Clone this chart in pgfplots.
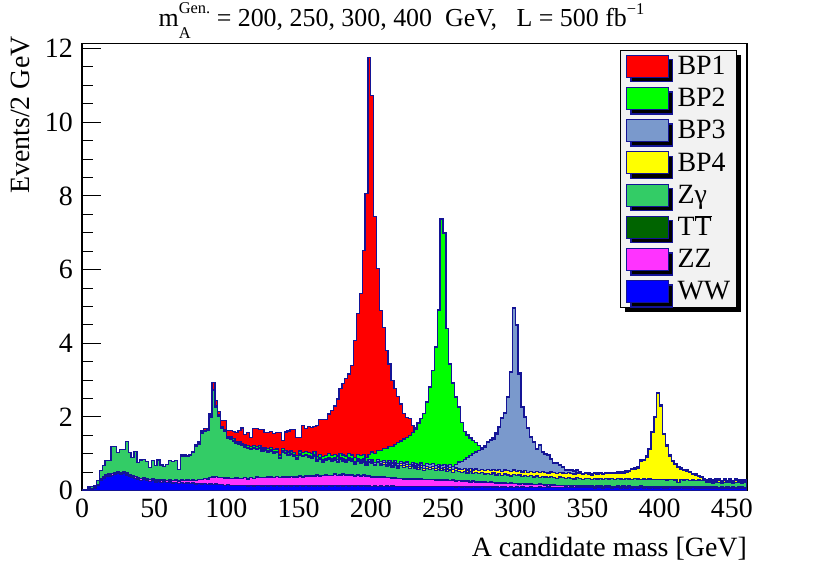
\documentclass[border=0pt]{standalone}
\usepackage{fontspec}
\setmainfont{Liberation Serif}
\usepackage{pgfplots}
\pgfplotsset{compat=1.18}
\usepackage{pgfplotstable}
\usetikzlibrary{shadows}

\definecolor{bpone}{RGB}{255,0,0}
\definecolor{bptwo}{RGB}{0,255,0}
\definecolor{bpthree}{RGB}{122,153,204}
\definecolor{bpfour}{RGB}{255,255,0}
\definecolor{zgam}{RGB}{51,204,102}
\definecolor{ttbar}{RGB}{0,100,0}
\definecolor{zzc}{RGB}{255,51,255}
\definecolor{wwc}{RGB}{0,0,255}
\definecolor{edge}{RGB}{20,20,150}

\pgfplotstableread{
x ww zz tt zg bp4 bp3 bp2 bp1
0 .01 0 0 .02 0 0 0 0
2 .02 0 0 .02 0 0 0 0
4 .04 .01 0 .05 0 0 0 0
6 .05 .01 0 .06 0 0 0 0
8 .06 .01 0 .06 0 0 0 0
10 .15 .02 0 .10 0 0 0 0
12 .28 .03 .01 .22 0 0 0 0
14 .34 .03 .01 .30 0 0 0 0
16 .38 .04 .01 .38 0 0 0 0
18 .40 .04 .01 .37 0 0 0 0
20 .42 .04 .01 .72 0 0 0 0
22 .44 .04 .01 .70 0 0 0 0
24 .46 .05 .01 .52 0 0 0 0
26 .45 .04 .01 .61 0 0 0 0
28 .46 .05 .01 .59 0 0 0 0
30 .43 .04 .01 .85 0 0 0 0
32 .38 .05 .01 .60 0 0 0 0
34 .36 .04 .01 .49 0 0 0 0
36 .33 .05 .01 .68 0 0 0 0
38 .30 .04 .01 .42 0 0 0 0
40 .28 .05 .01 .49 0 0 0 0
42 .30 .04 .01 .50 0 0 0 0
44 .27 .04 .01 .47 0 0 0 0
46 .25 .05 .01 .32 0 0 0 0
48 .28 .04 .01 .48 0 0 0 0
50 .24 .05 .01 .38 0 0 0 0
52 .26 .04 .01 .52 0 0 0 0
54 .23 .05 .01 .41 0 0 0 0
56 .25 .04 .01 .35 0 0 0 0
58 .22 .05 .01 .44 0 0 0 0
60 .24 .05 .01 .51 0 0 0 0
62 .21 .06 .01 .52 0 0 0 0
64 .23 .05 .01 .52 0 0 0 0
66 .20 .06 .01 .30 0 0 0 0
68 .22 .06 .01 .64 0 0 .01 .03
70 .20 .07 .01 .66 0 0 .01 .02
72 .21 .07 .01 .63 0 0 .01 .02
74 .19 .08 .01 .68 0 0 .01 .02
76 .21 .08 .01 .74 0 .01 .01 .01
78 .18 .09 .01 .92 0 .01 .01 .02
80 .20 .10 .01 .96 0 .01 .02 .02
82 .18 .12 .01 1.24 0 .01 .02 .04
84 .19 .14 .01 1.26 0 .01 .02 .05
86 .17 .15 .01 1.30 0 .01 .02 .02
88 .18 .17 .01 1.64 0 .01 .03 .04
90 .16 .20 .01 2.34 0 .01 .03 .18
92 .18 .20 .01 1.87 0 .01 .03 .14
94 .16 .19 .01 1.67 0 .01 .03 .08
96 .17 .18 .01 1.32 .01 .01 .03 .17
98 .15 .19 .01 1.27 .01 .01 .03 .23
100 .16 .18 .01 1.06 .01 .01 .03 .17
102 .14 .19 .01 1.06 .01 .01 .04 .17
104 .15 .18 .01 1.01 .01 .01 .04 .19
106 .14 .20 .01 .93 .01 .01 .04 .24
108 .15 .18 .01 .91 .01 .02 .04 .31
110 .14 .19 .01 .88 .01 .02 .04 .41
112 .15 .20 .01 .82 .01 .02 .04 .27
114 .13 .19 .01 .82 .01 .02 .05 .35
116 .14 .21 .01 .76 .01 .02 .05 .25
118 .13 .20 .01 .81 .01 .02 .05 .45
120 .14 .22 .01 .75 .01 .02 .05 .48
122 .15 .20 .01 .78 .01 .02 .05 .44
124 .13 .22 .01 .72 .01 .02 .05 .50
126 .14 .21 .01 .74 .01 .02 .05 .40
128 .13 .23 .01 .68 .01 .02 .06 .44
130 .15 .21 .01 .71 .01 .02 .06 .43
132 .13 .22 .01 .66 .01 .02 .06 .45
134 .14 .24 .01 .65 .01 .02 .06 .45
136 .13 .22 .01 .52 .01 .02 .06 .61
138 .14 .23 .01 .67 .01 .02 .06 .22
140 .13 .24 .01 .62 .01 .02 .06 .50
142 .14 .22 .01 .58 .01 .02 .07 .57
144 .13 .25 .01 .59 .01 .02 .07 .58
146 .14 .23 .01 .55 .01 .03 .07 .62
148 .13 .24 .01 .47 .01 .03 .07 .49
150 .14 .26 .01 .56 .01 .03 .07 .37
152 .13 .24 .01 .54 .01 .03 .07 .73
154 .14 .25 .01 .55 .01 .03 .07 .62
156 .13 .27 .01 .49 .02 .03 .08 .71
158 .14 .25 .01 .48 .02 .03 .08 .71
160 .13 .26 .01 .53 .02 .03 .08 .68
162 .14 .28 .01 .37 .02 .03 .08 .83
164 .13 .26 .01 .45 .02 .03 .08 .95
166 .14 .27 .01 .36 .02 .03 .09 1.01
168 .13 .29 .01 .39 .02 .03 .09 .97
170 .14 .27 .01 .44 .02 .03 .09 1.08
172 .13 .28 .01 .38 .02 .04 .09 1.22
174 .14 .30 .01 .38 .02 .04 .10 1.31
176 .13 .28 .01 .36 .02 .04 .10 1.55
178 .14 .29 .01 .41 .02 .04 .10 1.76
180 .13 .31 .01 .35 .03 .04 .10 1.93
182 .14 .28 .01 .33 .03 .04 .11 2.10
184 .13 .30 .01 .38 .03 .04 .11 2.17
186 .14 .29 .01 .35 .03 .04 .11 2.42
188 .13 .27 .01 .31 .03 .04 .12 3.16
190 .14 .29 .01 .36 .03 .04 .12 3.81
192 .13 .27 .01 .34 .03 .05 .12 4.40
194 .14 .28 .01 .35 .03 .05 .13 5.53
196 .13 .26 .01 .30 .03 .05 .13 7.16
198 .13 .27 .01 .36 .03 .05 .14 10.77
200 .12 .25 .01 .36 .04 .05 .22 9.67
202 .13 .24 .01 .30 .04 .05 .24 6.43
204 .12 .25 .01 .38 .04 .05 .25 4.93
206 .13 .23 .01 .33 .04 .05 .31 3.79
208 .12 .24 .01 .35 .04 .06 .33 3.28
210 .13 .22 .01 .30 .04 .06 .39 2.65
212 .12 .23 .01 .34 .05 .06 .39 2.24
214 .13 .21 .01 .29 .05 .06 .45 1.79
216 .12 .22 .01 .35 .05 .06 .44 1.52
218 .12 .21 .01 .28 .05 .06 .57 1.25
220 .11 .22 .01 .34 .05 .07 .55 1.00
222 .12 .20 .01 .30 .05 .07 .65 .70
224 .11 .21 .01 .33 .05 .07 .67 .54
226 .12 .20 .01 .27 .05 .07 .78 .45
228 .11 .21 .01 .32 .05 .07 .81 .18
230 .12 .19 .01 .30 .05 .07 .92 .04
232 .11 .20 .01 .26 .05 .07 1.13 .01
234 .12 .19 .01 .31 .05 .07 1.20 .01
236 .11 .19 .01 .24 .06 .07 1.41 .01
238 .12 .18 .01 .29 .06 .08 1.66 .01
240 .11 .19 .01 .26 .06 .08 2.09 .01
242 .12 .18 .01 .29 .06 .08 2.52 .01
244 .11 .18 .01 .24 .06 .08 3.21 .01
246 .12 .17 .01 .28 .06 .08 4.17 .01
248 .11 .18 .01 .25 .06 .08 6.67 .01
250 .11 .17 .01 .28 .06 .08 6.27 .01
252 .12 .17 .01 .22 .07 .08 3.73 .01
254 .11 .16 .01 .28 .07 .09 2.72 .01
256 .11 .17 .01 .21 .07 .09 2.25 .01
258 .10 .16 .01 .28 .07 .10 1.81 .01
260 .11 .16 .01 .24 .07 .19 1.48 .01
262 .10 .15 .01 .24 .07 .23 1.05 .01
264 .11 .15 .01 .26 .08 .24 .75 .01
266 .10 .15 .01 .22 .08 .34 .60 .01
268 .10 .14 .01 .27 .08 .35 .47 .01
270 .11 .14 .01 .21 .09 .44 .36 .01
272 .10 .14 .01 .25 .09 .46 .25 .01
274 .10 .13 .01 .22 .09 .55 .12 .01
276 .11 .13 .01 .24 .09 .54 .04 .01
278 .10 .13 .01 .21 .10 .63 .02 .01
280 .10 .12 .01 .24 .10 .73 .02 .01
282 .11 .12 .01 .20 .10 .82 .02 .01
284 .10 .12 .01 .25 .10 .82 .02 .01
286 .10 .11 .01 .21 .11 1.00 .02 .01
288 .09 .11 .01 .25 .11 1.14 .02 .01
290 .10 .11 .01 .20 .11 1.42 .02 .01
292 .10 .10 .01 .24 .11 1.53 .01 .01
294 .09 .10 .01 .23 .11 1.99 .01 .01
296 .10 .10 .01 .19 .12 2.69 .01 .01
298 .09 .10 .01 .24 .12 4.38 .01 .01
300 .10 .09 .01 .21 .12 3.95 .01 .01
302 .09 .09 .01 .24 .12 2.62 .01 .01
304 .10 .09 .01 .19 .12 1.75 .01 .01
306 .09 .08 .01 .24 .12 1.46 .01 .01
308 .09 .08 .01 .20 .12 1.18 .01 .01
310 .10 .08 .01 .22 .12 .91 .01 .01
312 .09 .07 .01 .20 .13 .80 .01 .01
314 .09 .07 .01 .23 .13 .58 .01 .01
316 .10 .07 .01 .18 .13 .73 .01 .01
318 .09 .07 .01 .22 .13 .52 .01 .01
320 .09 .06 .01 .21 .13 .48 .01 .01
322 .10 .06 .01 .18 .13 .47 .01 .01
324 .09 .06 .01 .22 .13 .35 .01 .01
326 .09 .06 .01 .20 .13 .26 .01 .01
328 .08 .06 .01 .19 .13 .26 .01 .01
330 .09 .05 .01 .22 .13 .20 .01 .01
332 .09 .05 .01 .20 .13 .15 .01 .01
334 .08 .05 .01 .19 .13 .09 .01 .01
336 .09 .05 .01 .21 .13 .05 .01 .01
338 .08 .05 .01 .20 .13 .08 .01 .01
340 .09 .05 .01 .17 .13 .07 .01 .01
342 .08 .05 .01 .21 .13 .06 .01 .01
344 .08 .05 .01 .19 .13 .04 .01 .01
346 .09 .04 .01 .17 .13 .01 .01 .01
348 .08 .04 .01 .21 .12 .01 .01 .01
350 .08 .04 .01 .20 .12 .01 .01 .01
352 .08 .04 .01 .18 .12 .01 .01 .01
354 .07 .04 .01 .22 .12 .01 .01 .01
356 .08 .04 .01 .19 .13 .01 .01 .01
358 .08 .04 .01 .20 .13 .01 .01 .01
360 .07 .04 .01 .19 .13 .01 .01 .01
362 .08 .04 .01 .21 .13 .01 .01 .01
364 .08 .04 .01 .19 .14 .01 .01 .01
366 .07 .04 .01 .21 .14 .01 .01 .01
368 .08 .03 .01 .19 .15 .01 .01 .01
370 .08 .04 .01 .20 .15 .01 .01 .01
372 .07 .03 .01 .21 .16 .01 .01 .01
374 .08 .04 .01 .18 .17 .01 .01 .01
376 .07 .03 .01 .22 .18 .01 .01 .01
378 .08 .04 .01 .19 .20 .01 .01 .01
380 .07 .03 .01 .20 .26 .01 .01 .01
382 .08 .03 .01 .21 .26 .01 .01 .01
384 .07 .03 .01 .21 .29 .01 .01 .01
386 .08 .04 .01 .18 .49 .01 .01 .01
388 .07 .03 .01 .21 .50 .01 .01 .01
390 .08 .03 .01 .18 .61 .01 .01 .01
392 .07 .03 .01 .21 .80 .01 .01 .01
394 .08 .03 .01 .19 1.26 .01 .01 .01
396 .07 .03 .01 .19 1.69 .01 .01 .01
398 .07 .03 .01 .20 2.32 .01 .01 .01
400 .08 .03 .01 .18 2.00 .01 .01 .01
402 .07 .03 .01 .20 1.22 .01 .01 .01
404 .07 .03 .01 .18 .92 .01 .01 .01
406 .08 .03 .01 .18 .64 .01 .01 .01
408 .07 .03 .01 .20 .48 .01 .01 .01
410 .07 .03 .01 .18 .42 .01 .01 .01
412 .07 .03 .01 .11 .41 .01 .01 .01
414 .08 .03 .01 .18 .29 .01 .01 .01
416 .07 .03 .01 .18 .26 .01 .01 .01
418 .07 .03 .01 .19 .23 .01 .01 .01
420 .07 .03 .01 .17 .21 .01 .01 .01
422 .08 .03 .01 .17 .15 .01 .01 .01
424 .07 .03 .01 .17 .14 .01 .01 .01
426 .07 .03 .01 .18 .10 .01 .01 .01
428 .07 .03 .01 .16 .08 .01 .01 .01
430 .07 .03 .01 .17 .02 .01 .01 .01
432 .07 .03 .01 .11 .03 .02 .01 .02
434 .06 .03 .01 .14 .05 .02 .01 .01
436 .07 .02 .01 .11 .04 .02 .01 .01
438 .07 .03 .01 .12 .03 .03 .01 .02
440 .06 .02 .01 .13 .06 .02 .01 .02
442 .07 .03 .01 .09 .03 .02 .01 .01
444 .06 .02 .01 .14 .04 .03 .01 .02
446 .07 .03 .01 .11 .02 .02 .01 .01
448 .06 .02 .01 .15 .05 .02 .01 .02
450 .07 .03 .01 .10 .03 .02 .01 .01
452 .06 .02 .01 .14 .04 .02 .01 .02
454 .07 .02 .01 .12 .03 .02 .01 .01
456 .06 .03 .01 .11 .04 .02 .01 .02
458 .06 .02 .01 .13 .03 .02 .01 .01
460 .06 .02 .01 .13 .03 .02 .01 .01
}\hist

\newcommand{\subsz}{\fontsize{16.5}{16.5}\selectfont}

\begin{document}
\begin{tikzpicture}
\useasboundingbox (0,0) rectangle (830bp,563bp);
\begin{axis}[
  at={(82bp,72.3bp)}, anchor=south west,
  scale only axis, width=665bp, height=447.4bp,
  xmin=0, xmax=460.5, ymin=0, ymax=12.14,
  axis line style={line width=1.1bp},
  xtick={0,50,...,450}, ytick={0,2,...,12},
  minor y tick num=3,
  tick align=inside, ytick pos=left, xtick pos=bottom,
  xtick style={draw=none},
  ytick style={line width=1bp, black},
  major tick length=19bp, minor tick length=11bp,
  tick label style={font=\fontsize{28}{28}\selectfont},
  /pgf/number format/assume math mode=true,
  xticklabel style={anchor=base, inner sep=0pt, yshift=-27bp},
  yticklabel style={anchor=east, inner sep=0pt, xshift=-9bp},
  xlabel={A candidate mass [GeV]},
  ylabel={Events/2 GeV},
  label style={font=\fontsize{28}{28}\selectfont},
  xlabel style={at={(axis description cs:1,-0.1475)}, anchor=base east, inner sep=0pt},
  ylabel style={at={(axis description cs:-0.0782,1.0157)}, anchor=base east, inner sep=0pt},
  legend cell align=left,
  legend image code/.code={%
    \draw[#1, line width=0.9bp] (0bp,-2.7bp) rectangle (41.7bp,19.3bp);
    \pgfpathrectangle{\pgfpoint{0bp}{-7.8bp}}{\pgfpoint{51bp}{32.2bp}}\pgfusepath{}},
  legend style={at={(axis description cs:0.9845,0.9859)}, anchor=north east,
    draw=black, line width=0.9bp, fill=black!5,
    inner xsep=6bp, inner ysep=0bp, row sep=0bp,
    font=\fontsize{28}{28}\selectfont,
    drop shadow={shadow xshift=4.5bp, shadow yshift=-4.5bp, fill=black, opacity=1},
    nodes={inner sep=0pt, anchor=base west}},
  every axis plot/.append style={const plot, draw=edge, line width=1.3bp},
]
\addplot[fill=bpone] table[x=x, y expr=\thisrow{ww}+\thisrow{zz}+\thisrow{tt}+\thisrow{zg}+\thisrow{bp4}+\thisrow{bp3}+\thisrow{bp2}+\thisrow{bp1}] {\hist} \closedcycle;
\addlegendentry{BP1}
\addplot[fill=bptwo] table[x=x, y expr=\thisrow{ww}+\thisrow{zz}+\thisrow{tt}+\thisrow{zg}+\thisrow{bp4}+\thisrow{bp3}+\thisrow{bp2}] {\hist} \closedcycle;
\addlegendentry{BP2}
\addplot[fill=bpthree] table[x=x, y expr=\thisrow{ww}+\thisrow{zz}+\thisrow{tt}+\thisrow{zg}+\thisrow{bp4}+\thisrow{bp3}] {\hist} \closedcycle;
\addlegendentry{BP3}
\addplot[fill=bpfour] table[x=x, y expr=\thisrow{ww}+\thisrow{zz}+\thisrow{tt}+\thisrow{zg}+\thisrow{bp4}] {\hist} \closedcycle;
\addlegendentry{BP4}
\addplot[fill=zgam] table[x=x, y expr=\thisrow{ww}+\thisrow{zz}+\thisrow{tt}+\thisrow{zg}] {\hist} \closedcycle;
\addlegendentry{Zγ}
\addplot[fill=ttbar] table[x=x, y expr=\thisrow{ww}+\thisrow{zz}+\thisrow{tt}] {\hist} \closedcycle;
\addlegendentry{T$\overline{\hbox{T}}$}
\addplot[fill=zzc] table[x=x, y expr=\thisrow{ww}+\thisrow{zz}] {\hist} \closedcycle;
\addlegendentry{ZZ}
\addplot[fill=wwc] table[x=x, y=ww] {\hist} \closedcycle;
\addlegendentry{WW}
\end{axis}
\node[anchor=base, inner sep=0pt, font=\fontsize{26}{26}\selectfont] at (401.5bp,536.3bp)
  {m\rlap{\raisebox{-11.5bp}{\subsz A}}\raisebox{13bp}{\subsz Gen.} = 200, 250, 300, 400\ \ GeV,\ \ \ L = 500 fb\raisebox{12bp}{\subsz −1}};
\end{tikzpicture}
\end{document}
